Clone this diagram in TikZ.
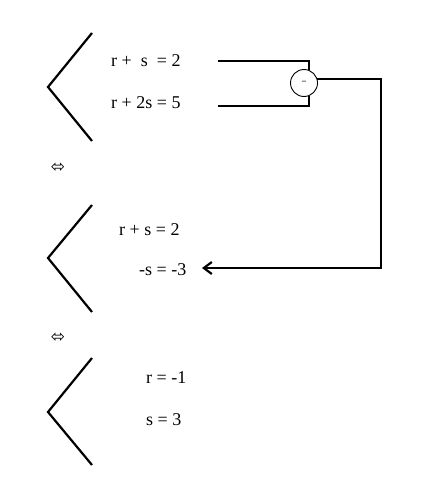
\documentclass[tikz,border=0pt]{standalone}
\usepackage{fontspec}
\setmainfont{Liberation Serif}
\newfontfamily\symfont{DejaVu Sans}
\usetikzlibrary{arrows.meta}

\begin{document}
\begin{tikzpicture}[x=1pt,y=-1pt,>={Straight Barb[length=8pt,width=12pt]},
  every node/.style={font=\fontsize{18}{21}\selectfont,inner sep=0pt},
  brace/.style={line width=2.2pt},wire/.style={line width=2.2pt}]
\useasboundingbox (0,0) rectangle (443,495);
% first system
\draw[brace] (92,33)--(48,87)--(92,141);
\node[anchor=west] (eqA) at (111,61) {r +~~s~~= 2};
\node[anchor=west] (eqB) at (111,103) {r + 2s = 5};
\node[draw,circle,minimum size=27pt,line width=0.9pt] (minus) at (304,83) {\textcolor{gray}{\fontsize{16}{16}\selectfont -}};
\coordinate (inA) at (218,61);
\coordinate (inB) at (218,106);
\draw[wire] (inA) -| (minus.70);
\draw[wire] (inB) -| (minus.-70);
\node (iffA) at (58,168) {\symfont\fontsize{17}{17}\selectfont ⬄};
% second system
\draw[brace] (92,205)--(48,258)--(92,312);
\node[anchor=west] (eqC) at (119,230) {r + s = 2};
\node[anchor=west] (eqD) at (139,270) {-s = -3};
\coordinate (tip) at (202,268);
\draw[wire,->] (minus.18) -| (381,268) -- (tip);
\node (iffB) at (58,338) {\symfont\fontsize{17}{17}\selectfont ⬄};
% third system
\draw[brace] (92,358)--(48,412)--(92,465);
\node[anchor=west] (eqE) at (146,378) {r = -1};
\node[anchor=west] (eqF) at (146,420) {s = 3};
\end{tikzpicture}
\end{document}
